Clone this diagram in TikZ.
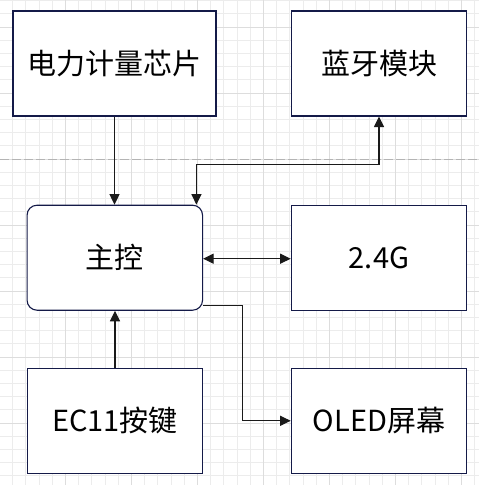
\documentclass[tikz,border=0pt]{standalone}
\usepackage{fontspec}
\setmainfont{Noto Sans CJK SC}
\usetikzlibrary{arrows.meta, calc}
\definecolor{boxline}{RGB}{20,26,72}
\definecolor{linkline}{RGB}{26,26,26}
\definecolor{gridminor}{RGB}{236,236,236}
\definecolor{gridmajor}{RGB}{221,221,221}
\definecolor{pagebreak}{RGB}{180,180,180}

\begin{document}
\begin{tikzpicture}[x=1pt, y=-1pt,
    box/.style={draw=boxline, line width=1.1pt, fill=white, inner sep=0pt,
        minimum width=175.5pt, minimum height=105pt, font=\fontsize{29}{34}\selectfont},
    tip/.tip={Triangle[length=10.5pt, width=10pt]},
    link/.style={draw=linkline, line width=1.1pt, -tip},
    duplex/.style={draw=linkline, line width=1.1pt, tip-tip}]
    \def \gridStep {13.2}
    \useasboundingbox (0,0) rectangle (479,485);
    \fill[white] (0,0) rectangle (479,485);
    \begin{scope}
        \clip (0,0) rectangle (479,485);
        \foreach \i in {0,...,36} {
            \draw[gridminor, line width=1pt] ({-0.5+\gridStep*\i},0) -- ++(0,485);
            \draw[gridminor, line width=1pt] (0,{0.6+\gridStep*\i}) -- ++(479,0);
        }
        \foreach \i in {0,...,7} {
            \draw[gridmajor, line width=1pt] ({-0.5+5*\gridStep*\i},0) -- ++(0,485);
            \draw[gridmajor, line width=1pt] (0,{27+5*\gridStep*(\i-1)}) -- ++(479,0);
        }
    \end{scope}
    \draw[pagebreak, line width=1pt, dash pattern=on 9pt off 3pt] (0,159.2) -- (479,159.2);

    \node[box, minimum width=203pt] (meter) at (114.5,63.5) {电力计量芯片};
    \node[box] (bt) at (379,63.5) {蓝牙模块};
    \node[box, rounded corners=10pt] (mcu) at (114.8,257.7) {主控};
    \node[box] (rf) at (379,258) {2.4G};
    \node[box] (ec11) at (115,420.8) {EC11按键};
    \node[box] (oled) at (379,420.8) {OLED屏幕};

    \draw[link] (meter.south) -- (meter.south |- mcu.north);
    \draw[duplex] (bt.south) |- ([xshift=-6.7pt, yshift=40pt]mcu.north east) -- ([xshift=-6.7pt]mcu.north east);
    \draw[duplex] ([yshift=-1pt]mcu.east) -- ([yshift=-1pt]mcu.east -| rf.west);
    \draw[link] (ec11.north) -- (ec11.north |- mcu.south);
    \draw[link] ([yshift=5pt]mcu.south east) -- ++(39.6,0) |- (oled.west);
\end{tikzpicture}
\end{document}
